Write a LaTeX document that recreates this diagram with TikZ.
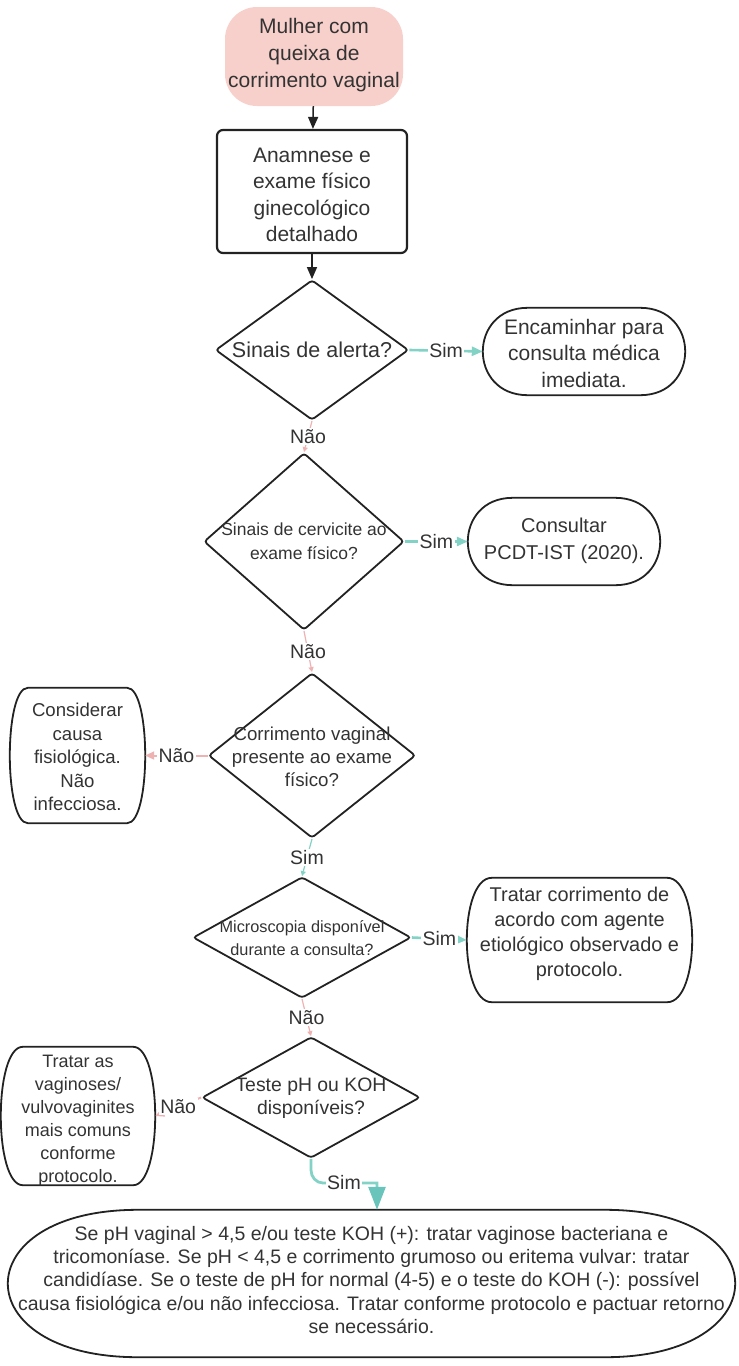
\documentclass[tikz,border=0pt]{standalone}
\usepackage{fontspec}
\setmainfont{Liberation Sans}
\usetikzlibrary{shapes.geometric,arrows.meta}
\definecolor{txtc}{RGB}{51,51,51}
\definecolor{linec}{RGB}{34,34,34}
\definecolor{pinkfill}{RGB}{248,208,203}
\definecolor{tealc}{RGB}{130,210,197}
\definecolor{tealdark}{RGB}{105,197,188}
\definecolor{pinkline}{RGB}{238,178,178}
\newcommand\myfs[2]{\fontsize{#1}{#2}\selectfont}
\newcommand\termdraw[2]{%
  \draw[shapeline] ([xshift=#2]#1.north west) -- ([xshift=-#2]#1.north east)
   .. controls ([xshift=#2/3]#1.north east) and ([xshift=#2/3]#1.south east) .. ([xshift=-#2]#1.south east)
   -- ([xshift=#2]#1.south west)
   .. controls ([xshift=-#2/3]#1.south west) and ([xshift=-#2/3]#1.north west) .. ([xshift=#2]#1.north west) -- cycle;}
\tikzset{
  shapeline/.style={draw=linec, line width=1.8pt},
  dia/.style={shape=diamond, draw=linec, line width=1.8pt, inner sep=0pt, rounded corners=3pt},
  term/.style={shape=rectangle, inner sep=0pt},
  txt/.style={text=txtc, align=center, inner sep=0pt},
  lab/.style={text=txtc, fill=white, inner sep=1.5pt, font=\myfs{19.5}{23}},
  yesline/.style={draw=tealc, line width=2.6pt, -{Triangle[width=9pt,length=11pt,color=tealc]}},
  noline/.style={draw=pinkline, line width=2pt, -{Triangle[width=8pt,length=9pt]}},
  faint/.style={draw=pinkline, line width=1.2pt, -{Triangle[width=5pt,length=5pt]}},
  flow/.style={draw=linec, line width=1.5pt, -{Triangle[width=10pt,length=12pt]}},
}
\begin{document}
\begin{tikzpicture}[x=1pt,y=-1pt]
\useasboundingbox (0,0) rectangle (739,1366);

% start
\node[fill=pinkfill, rounded corners=32pt, minimum width=178pt, minimum height=99pt, inner sep=0pt] (start) at (314,56.5) {};
\node[txt, font=\myfs{21}{27}] (startt) at (314,55) {Mulher com\\queixa de\\corrimento vaginal};

% box
\node[draw=linec, line width=2.2pt, rounded corners=6pt, minimum width=190pt, minimum height=123pt, inner sep=0pt] (box) at (312,191.5) {};
\node[txt, font=\myfs{21}{26.5}] (boxt) at (312,195) {Anamnese e\\exame físico\\ginecológico\\detalhado};

% diamonds
\node[dia, minimum width=193pt, minimum height=140pt] (d1) at (312,350) {};
\node[txt, font=\myfs{21.5}{26}] (d1t) at (312,350) {Sinais de alerta?};

\node[dia, minimum width=200pt, minimum height=177pt] (d2) at (304,541.5) {};
\node[txt, font=\myfs{17.5}{24}] (d2t) at (304,541) {Sinais de cervicite ao\\exame físico?};

\node[dia, minimum width=207pt, minimum height=165pt] (d3) at (312,755.5) {};
\node[txt, font=\myfs{18.7}{23}] (d3t) at (312,757) {Corrimento vaginal\\presente ao exame\\físico?};

\node[dia, minimum width=218pt, minimum height=121pt] (d4) at (302,937.5) {};
\node[txt, font=\myfs{16.3}{23}] (d4t) at (302,938) {Microscopia disponível\\durante a consulta?};

\node[dia, minimum width=218pt, minimum height=121pt] (d5) at (311,1097.5) {};
\node[txt, font=\myfs{19.4}{23}] (d5t) at (311,1098) {Teste pH ou KOH\\disponíveis?};

% terminators
\node[term, minimum width=202pt, minimum height=87pt] (enc) at (584,351.5) {};
\termdraw{enc}{45pt}
\node[txt, font=\myfs{21}{26.5}] (enct) at (584,353) {Encaminhar para\\consulta médica\\imediata.};

\node[term, minimum width=192pt, minimum height=87pt] (cons) at (564,541.5) {};
\termdraw{cons}{45pt}
\node[txt, font=\myfs{20}{27}] (const) at (564,541) {Consultar\\PCDT-IST (2020).};

\node[term, minimum width=135pt, minimum height=135pt] (fis) at (77.5,755.5) {};
\termdraw{fis}{18pt}
\node[txt, font=\myfs{18.6}{23.5}] (fist) at (77.5,757) {Considerar\\causa\\fisiológica.\\Não\\infecciosa.};

\node[term, minimum width=225pt, minimum height=124pt] (trat) at (579.5,940) {};
\termdraw{trat}{25pt}
\node[txt, font=\myfs{19.9}{25}] (tratt) at (579.5,934) {Tratar corrimento de\\acordo com agente\\etiológico observado e\\protocolo.};

\node[term, minimum width=154pt, minimum height=138pt] (comuns) at (78,1116) {};
\termdraw{comuns}{22pt}
\node[txt, font=\myfs{18}{23}] (comunst) at (78,1121) {Tratar as\\vaginoses/\\vulvovaginites\\mais comuns\\conforme\\protocolo.};

\node[term, minimum width=727pt, minimum height=147pt] (final) at (371.5,1283.5) {};
\termdraw{final}{130pt}
\node[txt, font=\myfs{19.5}{23.4}] (finalt) at (371.5,1280) {Se pH vaginal > 4,5 e/ou teste KOH (+): tratar vaginose bacteriana e\\tricomoníase. Se pH < 4,5 e corrimento grumoso ou eritema vulvar: tratar\\candidíase. Se o teste de pH for normal (4-5) e o teste do KOH (-): possível\\causa fisiológica e/ou não infecciosa. Tratar conforme protocolo e pactuar retorno\\se necessário.};

% connectors
\draw[flow] (start) -- (box);
\draw[flow] (box) -- (d1);

\draw[yesline] (d1.east) -- node[lab] (s1) {Sim} (enc.west);
\draw[faint] (d1.south) -- node[lab] (n1) {Não} (d2.north);

\draw[yesline] (d2.east) -- node[lab] (s2) {Sim} (cons.west);
\draw[faint] (d2.south) -- node[lab] (n2) {Não} (d3.north);

\draw[noline] (d3.west) -- node[lab] (n3) {Não} (fis.east);
\draw[faint, draw=tealc] (d3.south) -- node[lab] (s3) {Sim} (d4.north);

\draw[yesline] (d4.east) -- node[lab] (s4) {Sim} (trat.west);
\draw[faint] (d4.south) -- node[lab] (n4) {Não} (d5.north);

\draw[noline] (d5.west) -- node[lab] (n5) {Não} (comuns.east);

\coordinate (b1) at (311,1170);
\coordinate (b2) at (323,1183);
\coordinate (b3) at (377,1183);
\draw[draw=tealc, line width=2.8pt, -{Triangle[width=17pt,length=23pt,color=tealdark]}]
  (d5.south) -- (b1) to[out=-90,in=180] (b2) -- (b3) -- (b3 |- final.north);
\node[lab] (s5) at (344,1183) {Sim};
\end{tikzpicture}
\end{document}
